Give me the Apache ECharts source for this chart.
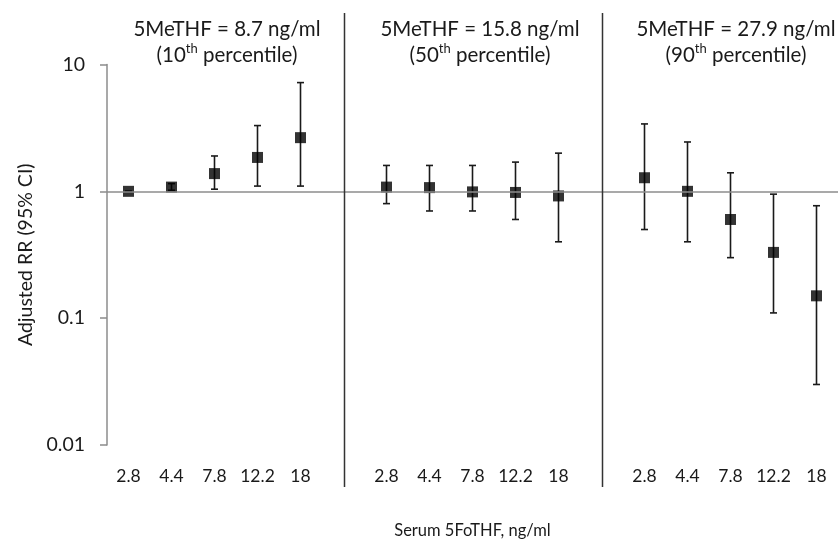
<!DOCTYPE html>
<html>
<head>
<meta charset="utf-8">
<script src="https://cdn.jsdelivr.net/npm/echarts@6/dist/echarts.min.js"></script>
<style>html,body{margin:0;padding:0;background:#fff}#c{width:838px;height:544px}</style>
</head>
<body>
<div id="c"></div>
<script>
// ---- data ----
var doses = ['2.8', '4.4', '7.8', '12.2', '18'];
var panelTitles = ['5MeTHF = 8.7 ng/ml', '5MeTHF = 15.8 ng/ml', '5MeTHF = 27.9 ng/ml'];
var panelPercentiles = ['10', '50', '90'];
var yTicks = [0.01, 0.1, 1, 10];

var rr10 = [1.0, 1.08, 1.38, 1.85, 2.65];
var lo10 = [1.0, 1.02, 1.04, 1.1, 1.1];
var hi10 = [1.0, 1.15, 1.9, 3.3, 7.2];

var rr50 = [1.08, 1.07, 0.99, 0.98, 0.92];
var lo50 = [0.8, 0.7, 0.7, 0.6, 0.4];
var hi50 = [1.6, 1.6, 1.6, 1.7, 2.0];

var rr90 = [1.28, 1.0, 0.6, 0.33, 0.15];
var lo90 = [0.5, 0.4, 0.3, 0.11, 0.03];
var hi90 = [3.4, 2.45, 1.4, 0.95, 0.77];

// ---- build ----
var rrs = [rr10, rr50, rr90], los = [lo10, lo50, lo90], his = [hi10, hi50, hi90];
var cats = [], pts = [], bars = [], dividerIdx = [];
for (var p = 0; p < 3; p++) {
  if (p > 0) { dividerIdx.push(cats.length); cats.push(''); }
  for (var i = 0; i < doses.length; i++) {
    var idx = cats.length;
    cats.push(doses[i]);
    pts.push([idx, rrs[p][i]]);
    bars.push([idx, los[p][i], his[p][i]]);
  }
}

var FONT = 'Lato, "Open Sans", sans-serif';
var titleLeft = [222, 475, 731];
var titles = panelTitles.map(function (t, k) {
  return {
    text: t + '\n(' + panelPercentiles[k] + '{sup|th} percentile)',
    left: titleLeft[k], top: 11, textAlign: 'center',
    textStyle: {
      fontFamily: FONT, fontSize: 20.5, fontWeight: 'normal', color: '#1a1a1a', lineHeight: 26,
      rich: { sup: { fontFamily: FONT, fontSize: 13, color: '#1a1a1a', verticalAlign: 'top', lineHeight: 26, padding: [0, 0, 8, 0] } }
    }
  };
});

var chart = echarts.init(document.getElementById('c'), null, { renderer: 'canvas' });
chart.setOption({
  animation: false,
  backgroundColor: '#fff',
  title: titles,
  grid: { left: 107, top: 64.5, bottom: 99, right: -4, containLabel: false },
  xAxis: {
    type: 'category', data: cats, boundaryGap: true,
    axisLine: { show: false }, axisTick: { show: false },
    axisLabel: { interval: 0, fontFamily: FONT, fontSize: 17.5, color: '#1a1a1a', margin: 22 },
    name: 'Serum 5FoTHF, ng/ml', nameLocation: 'middle', nameGap: 77,
    nameTextStyle: { fontFamily: FONT, fontSize: 16.5, color: '#1a1a1a' }
  },
  yAxis: {
    type: 'log', logBase: 10, min: 0.01, max: 10,
    splitLine: { show: false },
    axisLine: { show: true, lineStyle: { color: '#8c8c8c', width: 1.5 } },
    axisTick: { show: true, length: 7, lineStyle: { color: '#8c8c8c', width: 1.5 } },
    axisLabel: {
      fontFamily: FONT, fontSize: 19.5, color: '#1a1a1a', margin: 22,
      formatter: function (v) { return yTicks.indexOf(+v.toPrecision(3)) >= 0 ? String(+v.toPrecision(3)) : ''; }
    },
    name: 'Adjusted RR (95% CI)', nameLocation: 'middle', nameGap: 71,
    nameTextStyle: { fontFamily: FONT, fontSize: 19.5, color: '#1a1a1a' }
  },
  series: [
    {
      type: 'custom', data: bars, z: 3,
      renderItem: function (params, api) {
        var x = api.value(0);
        var a = api.coord([x, api.value(1)]);
        var b = api.coord([x, api.value(2)]);
        var hw = 3.5;
        var st = { stroke: '#1a1a1a', lineWidth: 1.6 };
        return {
          type: 'group', children: [
            { type: 'line', shape: { x1: a[0], y1: a[1], x2: b[0], y2: b[1] }, style: st },
            { type: 'line', shape: { x1: a[0] - hw, y1: a[1], x2: a[0] + hw, y2: a[1] }, style: st },
            { type: 'line', shape: { x1: b[0] - hw, y1: b[1], x2: b[0] + hw, y2: b[1] }, style: st }
          ]
        };
      }
    },
    {
      type: 'scatter', data: pts, symbol: 'rect', symbolSize: 11, z: 4,
      itemStyle: { color: '#000' },
      markLine: {
        silent: true, symbol: ['none', 'none'], label: { show: false },
        lineStyle: { color: '#8c8c8c', width: 1.5, type: 'solid' },
        data: [{ yAxis: 1 }]
      }
    }
  ]
});

var gr = dividerIdx.map(function (di) {
  var x = Math.round(chart.convertToPixel({ xAxisIndex: 0 }, di)) + 0.5;
  return { type: 'line', shape: { x1: x, y1: 13, x2: x, y2: 487 }, style: { stroke: '#333', lineWidth: 1.5 }, z: 10 };
});
chart.setOption({ graphic: gr });
</script>
</body>
</html>
